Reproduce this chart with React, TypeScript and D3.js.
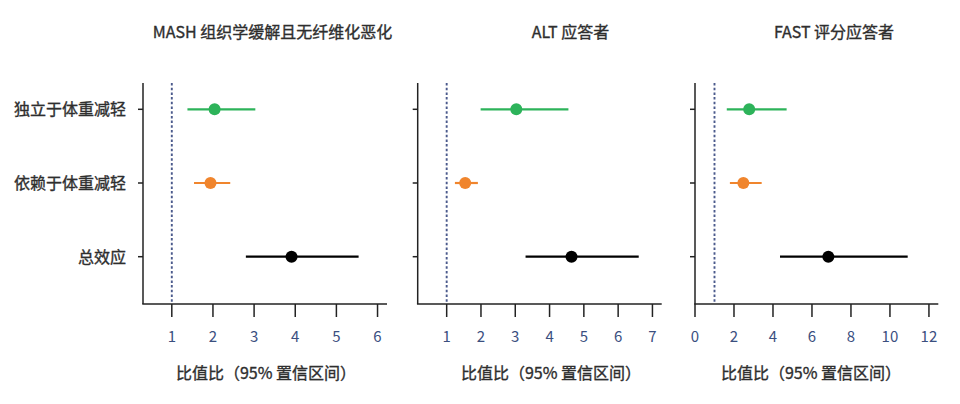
import React from "react";
import * as d3 from "d3";

const titles = ["MASH 组织学缓解且无纤维化恶化", "ALT 应答者", "FAST 评分应答者"];
const categories = ["独立于体重减轻", "依赖于体重减轻", "总效应"];
const seriesColors = ["#2db35a", "#f0852d", "#000000"];

const estMASH = [2.04, 1.94, 3.91];
const loMASH = [1.38, 1.54, 2.8];
const hiMASH = [3.03, 2.42, 5.54];

const estALT = [3.03, 1.54, 4.64];
const loALT = [1.99, 1.24, 3.3];
const hiALT = [4.55, 1.91, 6.6];

const estFAST = [2.78, 2.48, 6.84];
const loFAST = [1.63, 1.79, 4.36];
const hiFAST = [4.7, 3.42, 10.91];

const ticksMASH = [1, 2, 3, 4, 5, 6];
const ticksALT = [1, 2, 3, 4, 5, 6, 7];
const ticksFAST = [0, 2, 4, 6, 8, 10, 12];

const domainMASH = [0.3, 6.23];
const domainALT = [0.155, 7.27];
const domainFAST = [0, 12.48];

const referenceValue = 1;
const xAxisLabel = "比值比（95% 置信区间）";

const panels = [
  { title: titles[0], est: estMASH, lo: loMASH, hi: hiMASH, ticks: ticksMASH, domain: domainMASH },
  { title: titles[1], est: estALT, lo: loALT, hi: hiALT, ticks: ticksALT, domain: domainALT },
  { title: titles[2], est: estFAST, lo: loFAST, hi: hiFAST, ticks: ticksFAST, domain: domainFAST },
];

// layout
const W = 960;
const H = 404;
const panelRanges: [number, number][] = [
  [143, 387],
  [417.7, 661.7],
  [695, 938.3],
];
const titleCenters = [272.5, 570.5, 834];
const axisLabelCenters = [266, 551, 811];
const plotTop = 83;
const plotBottom = 304;
const FONT = "'Noto Sans CJK SC', 'Noto Sans', sans-serif";
const TEXT = "#2e2e2e";
const textHeavy = { stroke: TEXT, strokeWidth: 0.35 };

export default function App() {
  const y = d3.scalePoint<string>().domain(categories).range([109.3, 256.7]);
  return (
    <svg
      width={W}
      height={H}
      viewBox={`0 0 ${W} ${H}`}
      style={{ position: "absolute", left: 0, top: 0, background: "#fff" }}
      fontFamily={FONT}
    >
      <rect x={0} y={0} width={W} height={H} fill="#fff" />
      {categories.map((c) => (
        <text
          key={c}
          x={126}
          y={(y(c) as number) + 5.8}
          textAnchor="end"
          fontSize={16}
          fill={TEXT}
          {...textHeavy}
        >
          {c}
        </text>
      ))}
      {panels.map((p, pi) => {
        const [x0, x1] = panelRanges[pi];
        const x = d3.scaleLinear().domain(p.domain).range([x0, x1]);
        return (
          <g key={pi}>
            <text
              x={titleCenters[pi]}
              y={37.5}
              textAnchor="middle"
              fontSize={16}
              fill={TEXT}
              {...textHeavy}
            >
              {p.title}
            </text>
            <line
              x1={x(referenceValue)}
              x2={x(referenceValue)}
              y1={plotTop}
              y2={plotBottom}
              stroke="#4b5a8c"
              strokeWidth={1.9}
              strokeDasharray="2.5 2.2"
            />
            <line x1={x0} x2={x0} y1={plotTop} y2={plotBottom} stroke="#222" strokeWidth={1.5} />
            <line x1={x0 - 0.75} x2={x1} y1={plotBottom} y2={plotBottom} stroke="#222" strokeWidth={1.5} />
            {categories.map((c) => (
              <line
                key={c}
                x1={x0 - 5}
                x2={x0}
                y1={y(c) as number}
                y2={y(c) as number}
                stroke="#222"
                strokeWidth={1.5}
              />
            ))}
            {p.ticks.map((t) => (
              <g key={t}>
                <line
                  x1={x(t)}
                  x2={x(t)}
                  y1={plotBottom}
                  y2={plotBottom + 13}
                  stroke="#222"
                  strokeWidth={1.5}
                />
                <text x={x(t)} y={341.5} textAnchor="middle" fontSize={15} fill="#3b4f7f">
                  {t}
                </text>
              </g>
            ))}
            <text
              x={axisLabelCenters[pi]}
              y={379}
              textAnchor="middle"
              fontSize={16}
              fill={TEXT}
              {...textHeavy}
            >
              {xAxisLabel}
            </text>
            {categories.map((c, i) => (
              <g key={c}>
                <line
                  x1={x(p.lo[i])}
                  x2={x(p.hi[i])}
                  y1={y(c) as number}
                  y2={y(c) as number}
                  stroke={seriesColors[i]}
                  strokeWidth={2.2}
                />
                <circle cx={x(p.est[i])} cy={y(c) as number} r={6} fill={seriesColors[i]} />
              </g>
            ))}
          </g>
        );
      })}
    </svg>
  );
}
